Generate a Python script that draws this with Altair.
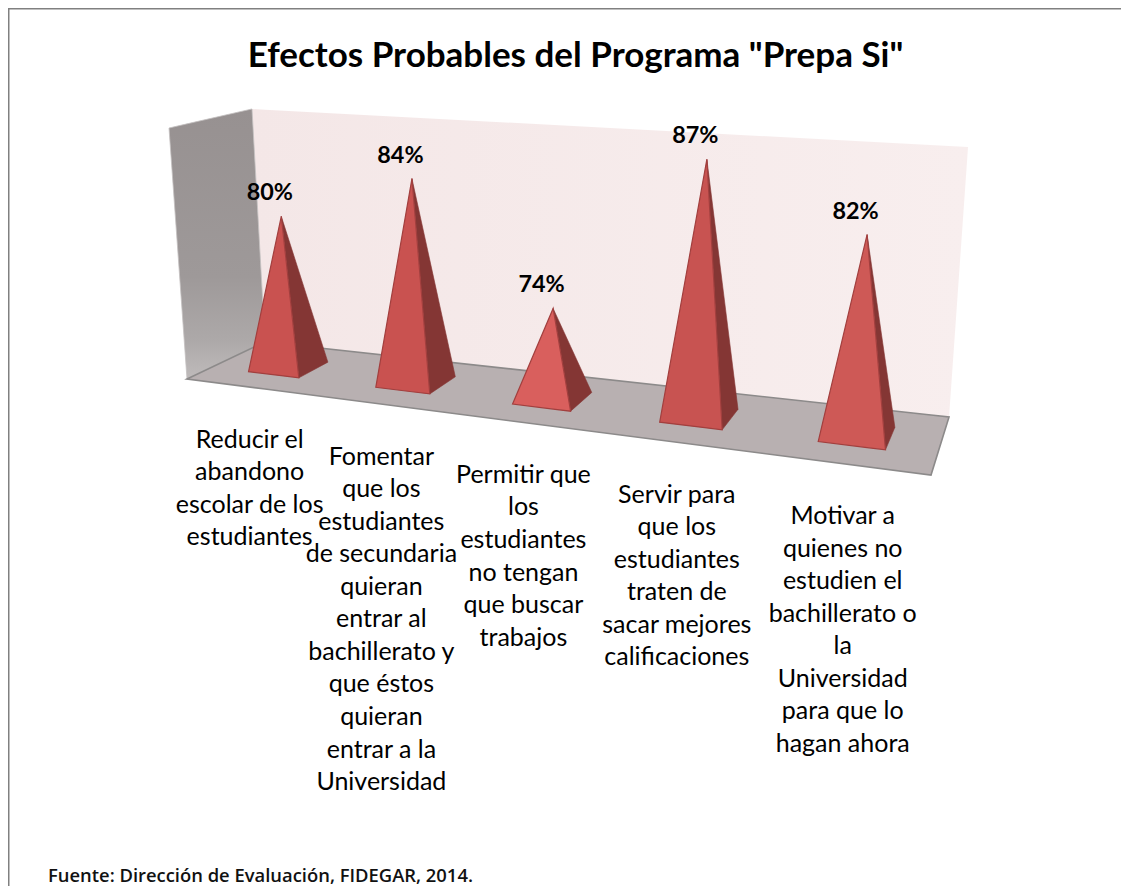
import altair as alt
import pandas as pd

# ---- chart content -------------------------------------------------------
TITLE = 'Efectos Probables del Programa "Prepa Si"'
SOURCE = "Fuente: Dirección de Evaluación, FIDEGAR, 2014."
VALUES = [80, 84, 74, 87, 82]
CATEGORY_LINES = [
    ["Reducir el", "abandono", "escolar de los", "estudiantes"],
    ["Fomentar", "que los", "estudiantes", "de secundaria", "quieran", "entrar al",
     "bachillerato y", "que éstos", "quieran", "entrar a la", "Universidad"],
    ["Permitir que", "los", "estudiantes", "no tengan", "que buscar", "trabajos"],
    ["Servir para", "que los", "estudiantes", "traten de", "sacar mejores", "calificaciones"],
    ["Motivar a", "quienes no", "estudien el", "bachillerato o", "la", "Universidad",
     "para que lo", "hagan ahora"],
]
FRONT_FILLS = ["#C95250", "#C95250", "#D95F5D", "#C85351", "#CE5956"]

# ---- the 3-D box of the chart: a perspective projection ------------------
W, H = 1113, 878
AXIS_MIN, AXIS_SPAN = 66.6, 22.0
D_FRONT, D_BACK = 0.30, 0.70
LINE_PITCH = 32.55


def floor(u, d):
    den = 1 - 0.2405 * u + 0.094 * d
    return (520.1 * u + 102.9 * d + 187) / den, (-18.2 * u - 4.9 * d + 379) / den


def project(u, d, level):
    x, y = floor(u, d)
    rise_x = -18 + 5 * d + (34 - 2 * d) * u
    rise_y = 251 - 18 * d + (59 - 22 * d) * u
    return x + rise_x * level, y - rise_y * level


def slot(i):
    return 0.108 + 0.213 * i - 0.0033 * i * i


def half_width(i):
    return 0.043 - 0.00135 * i


def polygon_rows(points, **extra):
    """Upper and lower chains of a convex polygon, as rows for an area mark."""
    rows = []
    n = len(points)
    for x in sorted({p[0] for p in points}):
        ys = []
        for k in range(n):
            (x0, y0), (x1, y1) = points[k], points[(k + 1) % n]
            if min(x0, x1) <= x <= max(x0, x1) and x0 != x1:
                ys.append(y0 + (y1 - y0) * (x - x0) / (x1 - x0))
        rows.append(dict(x=x, top=min(ys), bottom=max(ys), **extra))
    return rows


LEFT_WALL = [(0, 0, 0), (0, 1, 0), (0, 1, 1), (0, 0, 1)]
BACK_WALL = [(0, 1, 0), (1, 1, 0), (1, 1, 1), (0, 1, 1)]
FLOOR = [(0, 0, 0), (1, 0, 0), (1, 1, 0), (0, 1, 0)]

front_rows, side_rows, value_rows, label_rows = [], [], [], []
for i, (value, lines) in enumerate(zip(VALUES, CATEGORY_LINES)):
    u, w = slot(i), half_width(i)
    level = (value - AXIS_MIN) / AXIS_SPAN
    apex = project(u, 0.5, level)
    fl = project(u - w, D_FRONT, 0)
    fr = project(u + w, D_FRONT, 0)
    br = project(u + w, D_BACK, 0)
    front_rows += polygon_rows([fl, fr, apex], cat=i)
    side_rows += polygon_rows([fr, br, apex], cat=i)
    value_rows.append(dict(x=apex[0] - 11.5, y=apex[1] - 23, text=f"{value}%"))
    lx, ly = floor(u, 0)
    for j, line in enumerate(lines):
        label_rows.append(dict(x=lx, y=ly + 52.5 + j * LINE_PITCH, text=line))

# ---- scales: image pixels of the plane onto the chart --------------------
X = alt.X("x:Q", scale=alt.Scale(domain=[8, 8 + W], range=[0, W]), axis=None)
Y_SCALE = alt.Scale(domain=[8, 8 + H], range=[0, H])
Y = alt.Y("top:Q", scale=Y_SCALE, axis=None)
Y2 = alt.Y2("bottom:Q")
YT = alt.Y("y:Q", scale=Y_SCALE, axis=None)


def grad(stops, horizontal=False):
    return alt.Gradient(
        gradient="linear",
        stops=[alt.GradientStop(color=c, offset=o) for o, c in stops],
        x1=0, y1=0, x2=1 if horizontal else 0, y2=0 if horizontal else 1,
    )


def poly(corners, **mark):
    pts = [project(*c) for c in corners]
    return (
        alt.Chart(alt.Data(values=polygon_rows(pts)))
        .mark_area(orient="vertical", **mark)
        .encode(x=X, y=Y, y2=Y2)
    )


back = poly(BACK_WALL, fill=grad([(0, "#F4E7E7"), (1, "#F8EEEE")], True))
left = poly(
    LEFT_WALL,
    fill=grad([(0, "#979191"), (0.62, "#9E9999"), (0.86, "#ADA9A9"), (1, "#BFBBBB")]),
    stroke="#C4C0C0",
    strokeWidth=0.8,
)
ground = poly(FLOOR, fill="#B8B0B1", stroke="#8C8A8A", strokeWidth=1.6)

side = (
    alt.Chart(alt.Data(values=side_rows))
    .mark_area(orient="vertical", fill="#843634", stroke="#843634", strokeWidth=0.6)
    .encode(x=X, y=Y, y2=Y2, detail="cat:N")
)
front = (
    alt.Chart(alt.Data(values=front_rows))
    .mark_area(orient="vertical", stroke="#A23F3E", strokeWidth=1.2)
    .encode(
        x=X, y=Y, y2=Y2, detail="cat:N",
        fill=alt.Fill("cat:N", scale=alt.Scale(domain=list(range(5)), range=FRONT_FILLS), legend=None),
    )
)

values = (
    alt.Chart(alt.Data(values=value_rows))
    .mark_text(font="Lato", fontWeight="bold", fontSize=23.4, color="#000000", align="center", baseline="middle")
    .encode(x=X, y=YT, text="text:N")
)
labels = (
    alt.Chart(alt.Data(values=label_rows))
    .mark_text(font="Lato", fontSize=25, color="#000000", align="center", baseline="middle")
    .encode(x=X, y=YT, text="text:N")
)
title = (
    alt.Chart(alt.Data(values=[dict(x=575.5, y=55.5, text=TITLE)]))
    .mark_text(font="Lato", fontWeight="bold", fontSize=35, color="#000000", align="center", baseline="middle")
    .encode(x=X, y=YT, text="text:N")
)
source = (
    alt.Chart(alt.Data(values=[dict(x=48, y=876, text=SOURCE)]))
    .mark_text(font="Open Sans", fontWeight=600, fontSize=18.4, color="#111111", align="left", baseline="middle")
    .encode(x=X, y=YT, text="text:N")
)

frame_top = alt.Chart(alt.Data(values=[{"a": 0}])).mark_rule(color="#808080", strokeWidth=1.5).encode(
    x=alt.value(0), x2=alt.value(W), y=alt.value(0.75)
)
frame_left = alt.Chart(alt.Data(values=[{"a": 0}])).mark_rule(color="#808080", strokeWidth=1.5).encode(
    x=alt.value(0.75), y=alt.value(0), y2=alt.value(H)
)

chart = (
    alt.layer(back, left, ground, side, front, values, labels, title, source, frame_top, frame_left)
    .properties(width=W, height=H, padding=0, autosize=alt.AutoSizeParams(type="none"), background="#FFFFFF")
    .configure_view(stroke=None)
)
chart.save("out.html", embed_options={"renderer": "svg", "actions": False})
